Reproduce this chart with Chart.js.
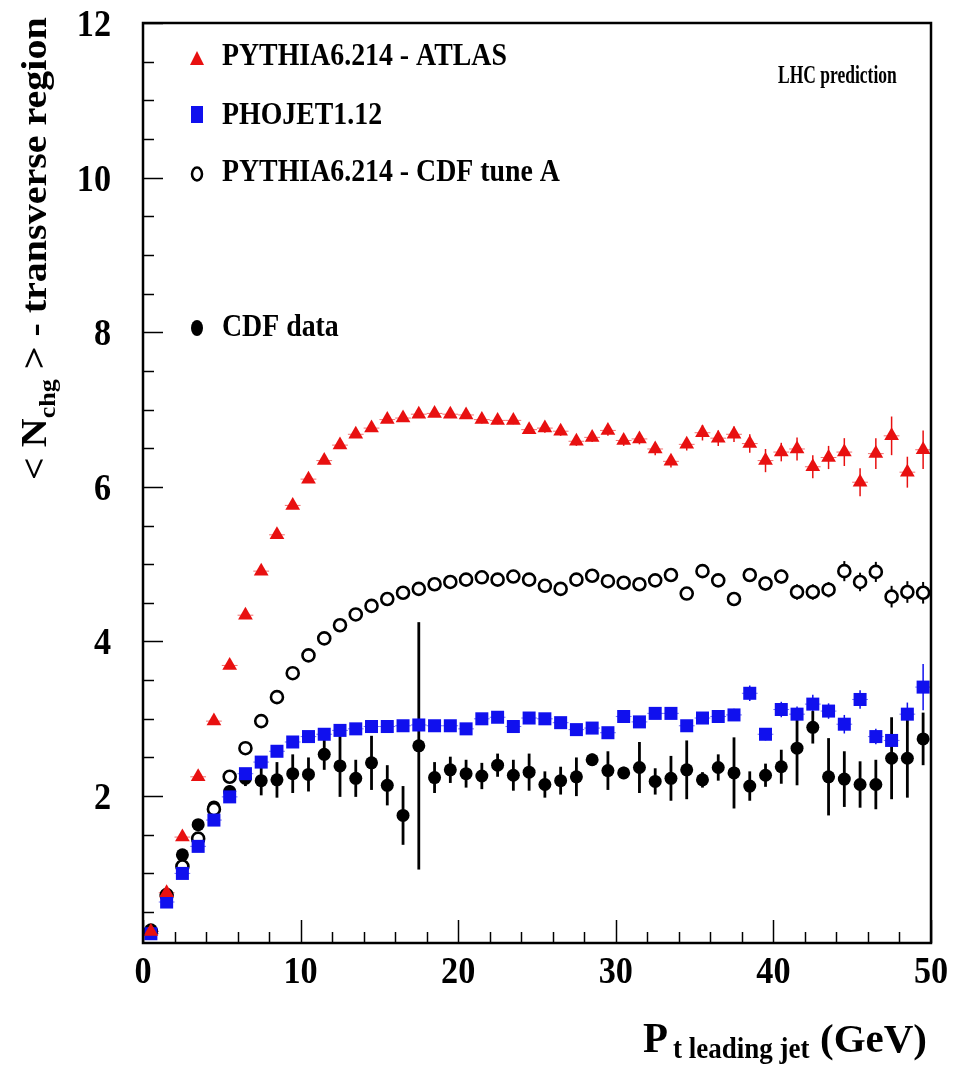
<!DOCTYPE html>
<html><head><meta charset="utf-8">
<script src="https://cdn.jsdelivr.net/npm/chart.js@4/dist/chart.umd.min.js"></script>
<style>html,body{margin:0;padding:0;background:#fff;}#wrap{width:953px;height:1077px;position:relative;}</style>
</head><body><div id="wrap"><canvas id="c"></canvas></div>
<script>
// ---- data ----
const ptLeadingJet = [0.5,1.5,2.5,3.5,4.5,5.5,6.5,7.5,8.5,9.5,10.5,11.5,12.5,13.5,14.5,15.5,16.5,17.5,18.5,19.5,20.5,21.5,22.5,23.5,24.5,25.5,26.5,27.5,28.5,29.5,30.5,31.5,32.5,33.5,34.5,35.5,36.5,37.5,38.5,39.5,40.5,41.5,42.5,43.5,44.5,45.5,46.5,47.5,48.5,49.5];
const pythiaAtlas = [0.25,0.75,1.47,2.25,2.97,3.69,4.34,4.91,5.38,5.76,6.10,6.34,6.54,6.68,6.76,6.87,6.89,6.94,6.95,6.94,6.93,6.87,6.86,6.86,6.74,6.76,6.72,6.59,6.64,6.73,6.60,6.62,6.49,6.33,6.55,6.70,6.63,6.68,6.56,6.34,6.45,6.49,6.26,6.38,6.45,6.06,6.43,6.66,6.19,6.48];
const pythiaAtlasErr = [0.02,0.02,0.02,0.02,0.03,0.03,0.03,0.03,0.03,0.03,0.03,0.03,0.03,0.04,0.04,0.04,0.04,0.04,0.04,0.04,0.05,0.05,0.05,0.05,0.05,0.06,0.06,0.06,0.06,0.07,0.07,0.07,0.08,0.08,0.08,0.10,0.10,0.10,0.12,0.15,0.12,0.15,0.15,0.15,0.18,0.18,0.20,0.25,0.20,0.25];
const phojet = [0.22,0.63,1.00,1.35,1.69,1.99,2.29,2.44,2.58,2.70,2.77,2.80,2.85,2.87,2.90,2.90,2.91,2.92,2.91,2.91,2.87,3.00,3.02,2.90,3.01,3.00,2.95,2.86,2.88,2.82,3.03,2.96,3.07,3.07,2.91,3.01,3.03,3.05,3.33,2.80,3.12,3.06,3.19,3.10,2.93,3.25,2.77,2.72,3.06,3.41];
const phojetErr = [0.02,0.02,0.02,0.02,0.02,0.02,0.02,0.03,0.03,0.03,0.03,0.03,0.03,0.03,0.03,0.04,0.04,0.04,0.04,0.04,0.04,0.05,0.05,0.05,0.05,0.05,0.05,0.06,0.06,0.06,0.06,0.06,0.07,0.07,0.07,0.07,0.08,0.08,0.10,0.08,0.10,0.10,0.12,0.10,0.12,0.12,0.10,0.10,0.15,0.30];
const pythiaTuneA = [0.25,0.72,1.09,1.45,1.83,2.25,2.62,2.97,3.28,3.59,3.82,4.04,4.21,4.35,4.46,4.55,4.63,4.68,4.74,4.77,4.80,4.83,4.80,4.84,4.80,4.72,4.68,4.80,4.85,4.78,4.76,4.74,4.79,4.86,4.62,4.91,4.79,4.55,4.86,4.75,4.84,4.64,4.64,4.67,4.91,4.77,4.90,4.58,4.64,4.63];
const pythiaTuneAErr = [0.02,0.02,0.02,0.02,0.02,0.03,0.03,0.03,0.03,0.03,0.03,0.03,0.03,0.04,0.04,0.04,0.04,0.04,0.04,0.04,0.05,0.05,0.05,0.05,0.05,0.05,0.06,0.06,0.06,0.06,0.06,0.07,0.07,0.07,0.08,0.08,0.08,0.08,0.09,0.09,0.09,0.10,0.10,0.10,0.13,0.12,0.13,0.14,0.14,0.14];
const cdfData = [0.27,0.72,1.24,1.63,1.86,2.06,2.23,2.20,2.21,2.29,2.28,2.54,2.39,2.23,2.43,2.14,1.75,2.65,2.24,2.34,2.29,2.26,2.40,2.27,2.31,2.15,2.20,2.25,2.47,2.33,2.30,2.37,2.19,2.23,2.34,2.21,2.37,2.30,2.13,2.27,2.38,2.62,2.89,2.25,2.22,2.15,2.15,2.49,2.49,2.74];
const cdfDataErr = [0.03,0.03,0.05,0.05,0.06,0.08,0.10,0.19,0.23,0.25,0.22,0.20,0.40,0.24,0.35,0.26,0.38,1.60,0.20,0.17,0.18,0.17,0.15,0.20,0.24,0.17,0.18,0.25,0.08,0.25,0.08,0.33,0.17,0.29,0.38,0.10,0.17,0.46,0.19,0.15,0.22,0.48,0.21,0.50,0.36,0.30,0.32,0.53,0.51,0.34];
const xTickValues = [0,10,20,30,40,50];
const xTickLabels = ['0','10','20','30','40','50'];
const yTickValues = [2,4,6,8,10,12];
const yTickLabels = ['2','4','6','8','10','12'];
const seriesNames = ['PYTHIA6.214 - ATLAS','PHOJET1.12','PYTHIA6.214 - CDF tune A','CDF data'];
const annotationText = 'LHC prediction';

// ---- styling ----
const FONT = "'Liberation Serif','Times New Roman',serif";
const RED = 'rgb(232,16,16)', BLUE = 'rgb(16,16,238)', BLACK = '#000';

function pts(ys){ return ptLeadingJet.map((x,i)=>({x:x,y:ys[i]})); }

function txt(ctx,s,x,y,size,align,sx){
  ctx.save(); ctx.font='bold '+size+'px '+FONT; ctx.textAlign=align; ctx.textBaseline='alphabetic';
  ctx.fillStyle='#000'; ctx.translate(x,y); ctx.scale(sx,1); ctx.fillText(s,0,0); ctx.restore();
}

const errorBars = {
  id:'errorBars',
  beforeDatasetsDraw(chart){
    const ctx=chart.ctx, xs=chart.scales.x, ys=chart.scales.y, a=chart.chartArea;
    ctx.save();
    ctx.beginPath(); ctx.rect(a.left,a.top,a.right-a.left,a.bottom-a.top); ctx.clip();
    chart.data.datasets.forEach((ds)=>{
      if(!ds.errors) return;
      ctx.strokeStyle=ds.errColor; ctx.lineWidth=ds.errWidth;
      ds.data.forEach((p,i)=>{
        const px=xs.getPixelForValue(p.x);
        ctx.beginPath();
        ctx.moveTo(px,ys.getPixelForValue(p.y-ds.errors[i]));
        ctx.lineTo(px,ys.getPixelForValue(p.y+ds.errors[i]));
        ctx.stroke();
        if(ds.xErr){
          const py=ys.getPixelForValue(p.y);
          ctx.save(); ctx.lineWidth=1; ctx.globalAlpha=0.6;
          ctx.beginPath();
          ctx.moveTo(xs.getPixelForValue(p.x-0.5),py); ctx.lineTo(xs.getPixelForValue(p.x+0.5),py);
          ctx.stroke(); ctx.restore();
        }
      });
    });
    ctx.restore();
  }
};

const frame = {
  id:'frame',
  afterDraw(chart){
    const ctx=chart.ctx, xs=chart.scales.x, ys=chart.scales.y, a=chart.chartArea;
    ctx.save();
    ctx.strokeStyle='#000';
    ctx.lineWidth=1.5;
    for(let v=0.5; v<=12.001; v+=0.5){
      if(v<ys.min) continue;
      const py=Math.round(ys.getPixelForValue(v))+0.5;
      const major = Math.abs(v/2-Math.round(v/2))<1e-6;
      ctx.beginPath(); ctx.moveTo(a.left,py); ctx.lineTo(a.left+(major?20:11),py); ctx.stroke();
    }
    for(let v=0; v<=50.001; v+=2){
      const px=Math.round(xs.getPixelForValue(v))+0.5;
      const major = v%10===0;
      ctx.beginPath(); ctx.moveTo(px,a.bottom); ctx.lineTo(px,a.bottom-(major?23:11)); ctx.stroke();
    }
    ctx.lineWidth=2.5;
    ctx.strokeRect(a.left,a.top,a.right-a.left,a.bottom-a.top);
    ctx.restore();
    // tick labels
    yTickValues.forEach((v,i)=>{ txt(ctx,yTickLabels[i],111,ys.getPixelForValue(v)+13,38,'right',0.9); });
    xTickValues.forEach((v,i)=>{ txt(ctx,xTickLabels[i],xs.getPixelForValue(v),983,38,'center',0.9); });
    // x title
    txt(ctx,'P',643,1052,43,'left',0.95);
    txt(ctx,'t leading jet',673,1058,30,'left',0.9);
    txt(ctx,'(GeV)',820,1052,41,'left',1.0);
    // y title (rotated)
    ctx.save();
    ctx.translate(46,480); ctx.rotate(-Math.PI/2); ctx.scale(1,0.9);
    ctx.fillStyle='#000'; ctx.textBaseline='alphabetic'; ctx.textAlign='left';
    let x=0;
    const seg=(s,size,dy)=>{ ctx.font='bold '+size+'px '+FONT; ctx.fillText(s,x,dy); x+=ctx.measureText(s).width; };
    seg('< N',40,0); seg('chg',26,10); seg(' > - transverse region',40,0);
    ctx.restore();
    // legend markers
    ctx.save();
    ctx.fillStyle=RED; ctx.beginPath(); ctx.moveTo(197,51); ctx.lineTo(204,65); ctx.lineTo(190,65); ctx.closePath(); ctx.fill();
    ctx.fillStyle=BLUE; ctx.fillRect(191,106,12,17);
    ctx.strokeStyle='#000'; ctx.lineWidth=2.5; ctx.beginPath(); ctx.ellipse(197,174,5,6.5,0,0,Math.PI*2); ctx.stroke();
    ctx.fillStyle='#000'; ctx.beginPath(); ctx.ellipse(197,328,6,8,0,0,Math.PI*2); ctx.fill();
    ctx.restore();
    txt(ctx,seriesNames[0],222,65,32,'left',0.87);
    txt(ctx,seriesNames[1],222,124,32,'left',0.87);
    txt(ctx,seriesNames[2],222,181,32,'left',0.87);
    txt(ctx,seriesNames[3],222,336,32,'left',0.87);
    txt(ctx,annotationText,778,83,25,'left',0.7);
  }
};

new Chart(document.getElementById('c'),{
  type:'scatter',
  data:{datasets:[
    {label:seriesNames[0],data:pts(pythiaAtlas),errors:pythiaAtlasErr,errColor:RED,errWidth:1.5,xErr:true,
     pointStyle:'triangle',pointRadius:8.5,pointHoverRadius:8.5,backgroundColor:RED,borderColor:RED,borderWidth:0},
    {label:seriesNames[1],data:pts(phojet),errors:phojetErr,errColor:BLUE,errWidth:1.5,xErr:true,
     pointStyle:'rect',pointRadius:9.2,pointHoverRadius:9.2,backgroundColor:BLUE,borderColor:BLUE,borderWidth:0},
    {label:seriesNames[2],data:pts(pythiaTuneA),errors:pythiaTuneAErr,errColor:BLACK,errWidth:2,
     pointStyle:'circle',pointRadius:6,pointHoverRadius:6,backgroundColor:'rgba(255,255,255,1)',borderColor:BLACK,borderWidth:2.6},
    {label:seriesNames[3],data:pts(cdfData),errors:cdfDataErr,errColor:BLACK,errWidth:2.8,
     pointStyle:'circle',pointRadius:6.5,pointHoverRadius:6.5,backgroundColor:BLACK,borderColor:BLACK,borderWidth:0}
  ]},
  options:{
    responsive:true,maintainAspectRatio:false,animation:false,
    layout:{padding:{left:100,right:22,top:23,bottom:100}},
    plugins:{legend:{display:false},tooltip:{enabled:false},title:{display:false}},
    scales:{
      x:{type:'linear',min:0,max:50,
         grid:{display:false,drawTicks:false},border:{display:false},
         ticks:{display:false},afterFit:(s)=>{s.height=34;}},
      y:{type:'linear',min:0.1,max:12,
         grid:{display:false,drawTicks:false},border:{display:false},
         ticks:{display:false},afterFit:(s)=>{s.width=43;}}
    }
  },
  plugins:[errorBars,frame]
});
</script></body></html>
